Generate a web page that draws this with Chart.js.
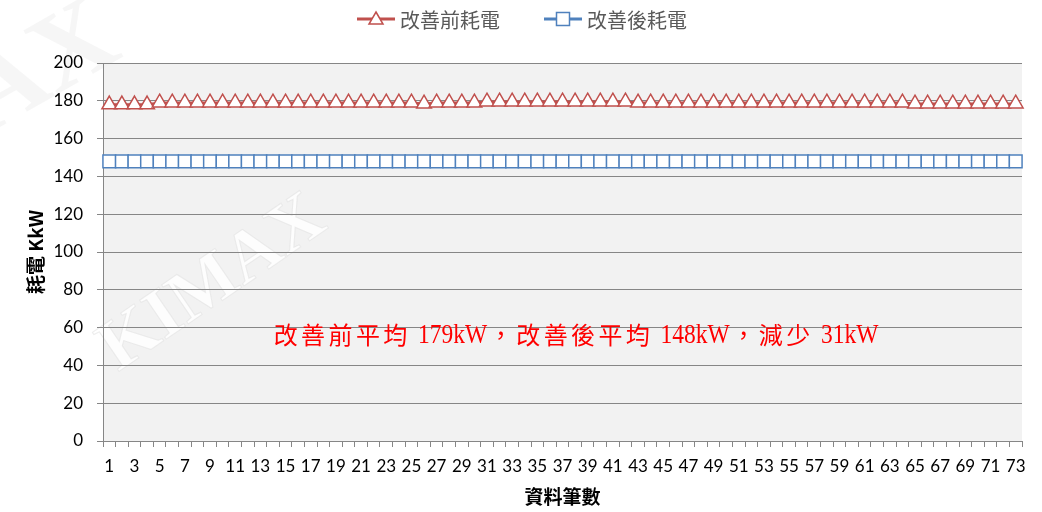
<!DOCTYPE html>
<html>
<head>
<meta charset="utf-8">
<script src="https://cdn.jsdelivr.net/npm/chart.js@4.4.0/dist/chart.umd.min.js"></script>
<style>
  html, body { margin: 0; padding: 0; background: #fff; }
  #wrap { width: 1042px; height: 512px; }
</style>
</head>
<body>
<div id="wrap"><canvas id="chart"></canvas></div>
<script>
// 資料筆數 1..73
const labels = Array.from({ length: 73 }, (_, i) => String(i + 1));

const beforeKw = [
  178, 178, 178, 178, 179, 179, 179, 179, 179, 179,
  179, 179, 179, 179, 179, 179, 179, 179, 179, 179,
  179, 179, 179, 179, 179, 178.5, 179, 179, 179, 179,
  179.5, 179.5, 179.5, 179.5, 179.5, 179.5, 179.5, 179.5, 179.5, 179.5,
  179.5, 179.5, 179, 179, 179, 179, 179, 179, 179, 179,
  179, 179, 179, 179, 179, 179, 179, 179, 179, 179,
  179, 179, 179, 179, 178.5, 178.5, 178.5, 178.5, 178.5, 178.5,
  178.5, 178.5, 178.5
];
const afterKw = [
  148, 148, 148, 148, 148, 148, 148, 148, 148, 148,
  148, 148, 148, 148, 148, 148, 148, 148, 148, 148,
  148, 148, 148, 148, 148, 148, 148, 148, 148, 148,
  148, 148, 148, 148, 148, 148, 148, 148, 148, 148,
  148, 148, 148, 148, 148, 148, 148, 148, 148, 148,
  148, 148, 148, 148, 148, 148, 148, 148, 148, 148,
  148, 148, 148, 148, 148, 148, 148, 148, 148, 148,
  148, 148, 148
];

const seriesNames = ["改善前耗電", "改善後耗電"];
const note = "改善前平均 179kW，改善後平均 148kW，減少 31kW";

const RED = "#c0504d";
const BLUE = "#4f81bd";

function marker(ctx, style, x, y, color) {
  ctx.save();
  ctx.fillStyle = "#fff";
  ctx.strokeStyle = color;
  ctx.lineWidth = 1.5;
  ctx.beginPath();
  if (style === "triangle") {
    ctx.moveTo(x, y - 8);
    ctx.lineTo(x + 7, y + 4);
    ctx.lineTo(x - 7, y + 4);
    ctx.closePath();
  } else {
    ctx.rect(x - 6.5, y - 6.5, 13, 13);
  }
  ctx.fill();
  ctx.stroke();
  ctx.restore();
}

// note: CJK in a fixed cell, latin runs in a narrowed serif
function drawNote(ctx, text, x, y) {
  const pitch = 27.4;
  ctx.save();
  ctx.textBaseline = "middle";
  for (const ch of text) {
    if (ch === " ") { x += 9; continue; }
    if (ch.charCodeAt(0) > 0x2e80) {
      ctx.font = '24px "Noto Sans CJK TC"';
      ctx.textAlign = "center";
      ctx.fillText(ch, x + pitch / 2, y);
      x += pitch;
    } else {
      ctx.font = '27px "Liberation Serif"';
      ctx.textAlign = "left";
      const w = ctx.measureText(ch).width * 0.87;
      ctx.save();
      ctx.translate(x, y + 1);
      ctx.scale(0.87, 1);
      ctx.fillText(ch, 0, 0);
      ctx.restore();
      x += w;
    }
  }
  ctx.restore();
}

const decor = {
  id: "decor",
  beforeDraw(chart) {
    const { ctx, chartArea: a } = chart;
    ctx.save();
    ctx.fillStyle = "#f2f2f2";
    ctx.fillRect(a.left, a.top, a.right - a.left, a.bottom - a.top);
    // watermark
    ctx.fillStyle = "rgba(255,255,255,0.85)";
    ctx.strokeStyle = "rgba(225,225,225,0.6)";
    ctx.font = 'bold 72px "Liberation Serif"';
    ctx.save();
    ctx.translate(118, 372);
    ctx.rotate(-0.6);
    ctx.fillText("KIMAX", 0, 0);
    ctx.strokeText("KIMAX", 0, 0);
    ctx.restore();
    ctx.font = 'bold 110px "Liberation Serif"';
    ctx.save();
    ctx.translate(-215, 250);
    ctx.rotate(-0.52);
    ctx.fillStyle = "rgba(240,240,240,0.6)";
    ctx.fillText("KIMAX", 0, 0);
    ctx.restore();
    ctx.restore();
  },
  afterDraw(chart) {
    const { ctx, scales } = chart;
    ctx.save();
    // legend
    ctx.font = '20px "Noto Sans CJK TC"';
    ctx.textBaseline = "middle";
    const styles = ["triangle", "rect"];
    const colors = [RED, BLUE];
    const lineW = 38, gap = 5, between = 44;
    const widths = seriesNames.map(n => lineW + gap + ctx.measureText(n).width);
    let x = chart.width / 2 - (widths[0] + widths[1] + between) / 2 + 1;
    const y = 19;
    seriesNames.forEach((n, i) => {
      ctx.strokeStyle = colors[i];
      ctx.lineWidth = 3;
      ctx.beginPath();
      ctx.moveTo(x, y);
      ctx.lineTo(x + lineW, y);
      ctx.stroke();
      marker(ctx, styles[i], x + lineW / 2, styles[i] === "triangle" ? y + 1 : y, colors[i]);
      ctx.fillStyle = "#595959";
      ctx.fillText(n, x + lineW + gap, y + 1);
      x += widths[i] + between;
    });
    ctx.fillStyle = "#ff0000";
    drawNote(ctx, note, 272, scales.y.getPixelForValue(56));
    ctx.restore();
  }
};

const config = {
  type: "line",
  data: {
    labels: labels,
    datasets: [
      {
        label: seriesNames[0],
        data: beforeKw,
        borderColor: RED,
        borderWidth: 2.5,
        pointStyle: "triangle",
        pointRadius: 8.5,
        pointBorderWidth: 1.5,
        pointBorderColor: RED,
        pointBackgroundColor: "#fff",
        tension: 0
      },
      {
        label: seriesNames[1],
        data: afterKw,
        borderColor: BLUE,
        borderWidth: 2.5,
        pointStyle: "rect",
        pointRadius: 9,
        pointBorderWidth: 1.5,
        pointBorderColor: BLUE,
        pointBackgroundColor: "#fff",
        tension: 0
      }
    ]
  },
  options: {
    responsive: true,
    maintainAspectRatio: false,
    animation: false,
    events: [],
    layout: { padding: { top: 63, right: 20, bottom: 0, left: 0 } },
    plugins: { legend: { display: false }, tooltip: { enabled: false } },
    scales: {
      x: {
        offset: true,
        afterFit(s) { s.height = 71; },
        grid: { offset: true, drawOnChartArea: false, drawTicks: true, tickLength: 6, color: "#868686" },
        border: { color: "#868686", width: 1 },
        ticks: {
          autoSkip: false,
          maxRotation: 0,
          padding: 9,
          color: "#000",
          font: { family: "Lato", size: 17 },
          callback: (v, i) => (i % 2 === 0 ? labels[i] : "")
        },
        title: {
          display: true,
          text: "資料筆數",
          color: "#000",
          font: { family: "Noto Sans CJK TC", size: 19, weight: "bold" },
          padding: { top: 0, bottom: 4 }
        }
      },
      y: {
        min: 0,
        max: 200,
        afterFit(s) { s.width = 103; },
        ticks: {
          stepSize: 20,
          padding: 14,
          color: "#000",
          font: { family: "Lato", size: 17 }
        },
        grid: { color: "#868686", tickLength: 6, lineWidth: 1 },
        border: { color: "#868686", width: 1 },
        title: {
          display: true,
          text: "耗電 KkW",
          color: "#000",
          font: { family: "Noto Sans CJK TC", size: 19, weight: "bold" },
          padding: { top: 24, bottom: 0 }
        }
      }
    }
  },
  plugins: [decor]
};

const myChart = new Chart(document.getElementById("chart"), config);
</script>
</body>
</html>
